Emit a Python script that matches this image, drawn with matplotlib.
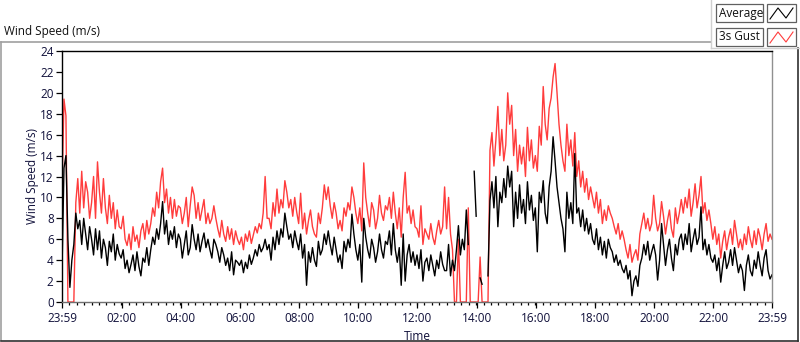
import numpy as np
import matplotlib
matplotlib.use("Agg")
import matplotlib.pyplot as plt
from matplotlib.lines import Line2D
from matplotlib.patches import Rectangle

nan = float("nan")

# sample step (minutes) starting at 23:59
step_min = 4

avg_speed = [
    3.0, 12.8, 14.0, 6.0, 1.4, 4.0, 5.5, 8.5, 7.0, 7.8, 5.5, 8.0, 6.5, 5.0, 7.2,
    6.0, 4.5, 7.0, 5.0, 6.8, 4.2, 6.0, 5.2, 3.5, 5.8, 4.8, 6.5, 4.0, 5.5, 4.6,
    4.2, 5.0, 3.2, 4.0, 2.8, 3.6, 4.5, 3.0, 4.8, 3.4, 2.5, 4.2, 3.8, 5.2, 3.5,
    5.0, 6.2, 5.5, 7.0, 6.0, 7.5, 9.6, 6.5, 7.8, 5.5, 6.8, 6.0, 7.2, 5.2, 6.5,
    6.0, 4.2, 5.5, 6.8, 4.5, 5.2, 7.4, 6.0, 5.0, 6.5, 4.8, 5.8, 6.6, 5.2, 6.0,
    5.0, 4.2, 6.0, 5.5, 4.8, 3.8, 5.2, 4.5, 3.5, 4.2, 3.0, 4.8, 2.6, 4.0, 3.8,
    3.5, 4.0, 2.8, 3.8, 3.2, 4.5, 3.6, 4.2, 5.0, 4.4, 5.5, 4.8, 5.2, 6.0, 5.0,
    5.5, 4.0, 6.2, 5.0, 6.8, 5.5, 7.0, 6.2, 8.5, 7.2, 6.0, 6.5, 5.2, 6.8, 5.8,
    5.0, 6.5, 4.2, 5.5, 1.6, 4.8, 3.8, 5.2, 4.0, 3.4, 5.8, 4.5, 5.0, 6.5, 5.5,
    6.8, 5.5, 4.5, 6.2, 5.0, 3.8, 4.5, 3.2, 5.8, 4.8, 6.0, 5.2, 8.4, 6.5, 5.0,
    4.0, 5.5, 1.9, 8.0, 6.2, 5.0, 4.2, 6.0, 5.2, 3.8, 4.8, 6.5, 5.0, 4.2, 5.8,
    5.5, 6.8, 4.5, 7.5, 5.0, 3.8, 5.2, 1.6, 6.5, 2.0, 4.5, 5.5, 3.8, 4.8, 3.5,
    4.5, 3.2, 5.0, 2.0, 3.8, 4.2, 3.0, 4.5, 3.5, 2.5, 4.0, 3.2, 4.8, 3.6, 3.0,
    3.0, 5.5, 2.5, 4.0, 3.0, 5.0, 7.3, 4.5, 6.0, 5.0, 8.8, 5.5, nan, nan, 12.5,
    8.2, nan, 2.3, 1.7, nan, nan, 2.5, 9.7, 11.5, 9.0, 12.0, 7.2, 10.5, 9.5, 11.8,
    10.0, 13.0, 11.0, 12.5, 7.2, 10.5, 8.0, 11.2, 8.5, 9.8, 7.5, 11.5, 8.8, 10.2, 7.8,
    9.0, 4.8, 10.5, 9.5, 11.6, 8.5, 7.5, 11.0, 12.5, 15.8, 13.5, 11.0, 9.5, 8.0, 7.0,
    4.8, 10.5, 8.0, 9.5, 7.5, 14.2, 8.5, 9.0, 7.2, 8.8, 6.8, 8.0, 6.5, 7.5, 6.0,
    5.5, 7.0, 5.0, 6.2, 4.5, 5.8, 4.2, 6.0, 5.2, 4.8, 3.8, 4.5, 3.5, 4.0, 3.2,
    2.8, 3.5, 2.2, 3.0, 0.6, 2.0, 2.5, 1.5, 3.5, 4.2, 5.5, 4.5, 5.8, 4.0, 4.8,
    5.5, 4.5, 2.1, 4.0, 7.5, 5.5, 3.5, 5.0, 6.0, 4.2, 3.0, 5.5, 4.5, 6.0, 6.5,
    5.0, 6.5, 5.5, 7.5, 4.8, 6.0, 7.0, 5.5, 6.2, 9.1, 5.0, 6.0, 4.5, 5.5, 4.2,
    3.8, 4.5, 3.0, 4.2, 1.9, 3.5, 4.8, 3.2, 3.8, 5.0, 3.5, 5.2, 4.0, 2.8, 3.6,
    3.0, 1.1, 3.5, 4.5, 3.0, 2.5, 4.0, 3.2, 4.8, 3.5, 2.5, 4.2, 5.0, 3.0, 2.2, 2.6,
]

gust_speed = [
    10.5, 19.4, 17.8, 0.0, 0.0, 0.0, 0.0, 9.5, 11.8, 8.5, 12.5, 9.0, 11.5, 10.5, 8.0,
    9.5, 12.0, 8.0, 13.4, 10.5, 8.5, 11.8, 9.0, 7.5, 10.2, 8.0, 9.5, 7.0, 8.8, 7.2,
    7.0, 8.2, 6.0, 5.4, 6.5, 5.0, 7.2, 5.8, 6.4, 5.2, 6.8, 7.5, 6.0, 7.8, 6.5,
    7.5, 9.0, 8.2, 10.5, 9.0, 11.5, 12.8, 9.5, 10.8, 8.5, 10.0, 8.0, 9.8, 8.2, 9.2,
    9.0, 7.5, 8.5, 10.0, 7.2, 9.2, 11.0, 10.2, 8.0, 9.5, 7.8, 8.8, 9.8, 7.5, 8.5,
    7.5, 8.0, 9.2, 8.0, 7.0, 6.2, 7.8, 6.5, 5.8, 7.2, 6.0, 7.0, 5.5, 6.8, 6.0,
    5.5, 6.2, 5.0, 6.5, 5.8, 6.8, 5.6, 6.4, 7.2, 6.6, 7.5, 7.0, 8.5, 12.0, 8.0,
    8.0, 7.0, 9.5, 8.2, 10.8, 8.5, 9.8, 9.0, 11.6, 10.5, 9.0, 9.8, 8.2, 10.0, 8.6,
    7.5, 10.4, 7.0, 8.5, 6.5, 7.8, 8.8, 7.2, 6.5, 6.2, 8.5, 7.5, 9.0, 11.2, 9.8,
    11.0, 9.2, 8.0, 9.5, 8.5, 7.0, 7.8, 6.8, 9.0, 8.2, 9.5, 8.8, 11.0, 10.0, 8.5,
    7.5, 9.0, 6.8, 13.3, 10.0, 8.5, 7.2, 9.5, 8.8, 7.0, 8.0, 10.2, 8.5, 7.8, 9.2,
    8.8, 10.0, 8.0, 10.5, 8.5, 7.0, 9.0, 6.2, 10.0, 12.4, 8.5, 9.2, 7.5, 8.8, 7.2,
    7.0, 6.2, 9.2, 5.5, 7.0, 6.5, 6.0, 7.5, 6.2, 5.5, 6.8, 7.8, 6.5, 7.2, 11.0,
    7.0, 10.0, 6.5, 5.0, 0.0, 0.0, 6.0, 0.0, 0.0, 0.0, 0.0, 9.0, 0.0, 0.0, 0.0,
    0.0, 0.0, 4.3, 0.0, 0.0, 0.0, 0.0, 14.5, 16.2, 13.0, 15.5, 18.7, 14.0, 16.5, 13.5,
    15.0, 20.0, 17.0, 18.8, 14.0, 16.5, 12.5, 15.0, 13.2, 14.8, 12.0, 16.7, 13.5, 15.5, 12.8,
    14.0, 12.5, 16.8, 15.0, 20.6, 17.0, 15.5, 18.5, 19.5, 21.5, 22.8, 20.0, 17.0, 15.0, 13.5,
    12.5, 17.0, 14.0, 15.5, 13.0, 16.2, 12.0, 13.5, 11.0, 12.5, 10.5, 11.8, 9.8, 11.0, 10.0,
    9.0, 10.5, 8.5, 9.8, 7.5, 8.8, 7.8, 9.2, 8.5, 8.0, 7.2, 6.5, 7.5, 6.0, 6.8,
    6.0, 5.0, 4.2, 5.5, 3.8, 4.5, 5.0, 4.0, 6.5, 7.5, 8.5, 7.0, 8.0, 6.8, 7.5,
    10.2, 8.0, 6.8, 7.5, 9.6, 8.2, 6.5, 7.8, 8.8, 7.0, 6.2, 9.0, 7.5, 8.5, 9.8,
    8.5, 10.0, 9.0, 10.8, 8.2, 9.5, 11.3, 9.0, 10.2, 12.0, 8.5, 9.5, 7.8, 8.8, 7.5,
    6.0, 7.2, 5.5, 6.5, 4.2, 5.8, 6.8, 5.0, 6.2, 7.0, 5.5, 7.8, 6.5, 5.2, 6.0,
    5.0, 6.5, 5.5, 7.2, 6.0, 5.2, 6.8, 5.5, 7.0, 6.2, 5.0, 6.5, 7.5, 5.8, 6.5, 6.0,
]

tick_minutes = [0, 121, 241, 361, 481, 601, 721, 841, 961, 1081, 1201, 1321, 1440]
tick_labels = ["23:59", "02:00", "04:00", "06:00", "08:00", "10:00", "12:00",
               "14:00", "16:00", "18:00", "20:00", "22:00", "23:59"]
y_ticks = list(range(0, 25, 2))
series_names = ["Average", "3s Gust"]

W, H = 800, 342
fig = plt.figure(figsize=(W / 100, H / 100), dpi=100)
fig.patch.set_facecolor("white")
FONT = ["Open Sans", "DejaVu Sans"]
plt.rcParams["font.family"] = FONT
txt_col = "#10103a"

def fx(px):
    return px / W

def fy(py):
    return 1 - py / H

# outer frame
fig.add_artist(Line2D([fx(1), fx(711)], [fy(42), fy(42)], color="#a0a0a0", lw=1.2))
fig.add_artist(Line2D([fx(1), fx(1)], [fy(42), fy(340)], color="#a0a0a0", lw=1.2))
fig.add_artist(Line2D([fx(1), fx(798)], [fy(340.5), fy(340.5)], color="#303030", lw=1.2))
fig.add_artist(Line2D([fx(798), fx(798)], [fy(48), fy(340.5)], color="#303030", lw=1.2))
fig.add_artist(Line2D([fx(711), fx(711)], [fy(0), fy(48)], color="#d0d0d0", lw=1.0))
fig.add_artist(Line2D([fx(711), fx(800)], [fy(48), fy(48)], color="#d0d0d0", lw=1.0))

fig.text(fx(4), fy(32), "Wind Speed (m/s)", fontsize=8.5, color="#101010",
         va="center", ha="left", family=FONT)

# legend boxes
for i, (name, col) in enumerate(zip(series_names, ["black", "#ff3c3c"])):
    top = 4 + i * 24
    hgt = 18
    fig.add_artist(Rectangle((fx(716), fy(top + hgt)), fx(763) - fx(716), (hgt) / H,
                             facecolor="white", edgecolor="#606060", lw=0.9))
    fig.text(fx(719), fy(top + hgt / 2), name, fontsize=8.5, color="#101010",
             va="center", ha="left", family=FONT)
    fig.add_artist(Rectangle((fx(767), fy(top + hgt)), fx(796) - fx(767), (hgt) / H,
                             facecolor="white", edgecolor="#606060", lw=0.9))
    zx = [770, 778, 786, 793]
    zy = [top + 15, top + 4, top + 14, top + 4]
    fig.add_artist(Line2D([fx(v) for v in zx], [fy(v) for v in zy], color=col, lw=0.8))

ax = fig.add_axes([fx(62), fy(302), fx(772) - fx(62), (302 - 51) / H])
t = np.arange(len(avg_speed)) * step_min
ax.plot(t, gust_speed, color="#ff3c3c", lw=1.0)
ax.plot(t, avg_speed, color="black", lw=1.0)

ax.set_xlim(0, 1440)
ax.set_ylim(0, 24)
ax.set_xticks(tick_minutes)
ax.set_xticklabels(tick_labels)
ax.set_xticks(np.arange(0, 1441, 15), minor=True)
ax.set_yticks(y_ticks)
ax.tick_params(axis="both", which="major", labelsize=8.5, labelcolor=txt_col,
               length=4, width=0.9, color="black", pad=2)
ax.tick_params(axis="x", which="minor", length=2.5, width=0.9, color="black")
ax.tick_params(axis="x", which="major", length=4.5, pad=3)
for lab in ax.get_xticklabels() + ax.get_yticklabels():
    lab.set_family(FONT)

ax.spines["top"].set_color("black")
ax.spines["left"].set_color("black")
ax.spines["right"].set_color("#909090")
ax.spines["bottom"].set_color("#707070")
for s in ax.spines.values():
    s.set_linewidth(1.0)

ax.set_xlabel("Time", fontsize=8.5, color=txt_col, labelpad=3, family=FONT)
ax.set_ylabel("Wind Speed (m/s)", fontsize=8.5, color=txt_col, labelpad=1, family=FONT)

fig.savefig("out.png", dpi=100)
